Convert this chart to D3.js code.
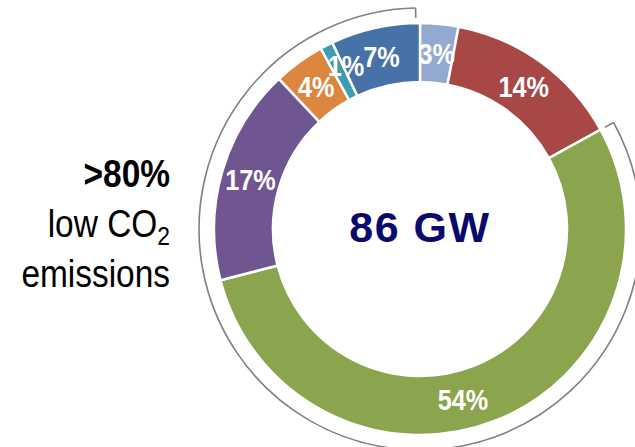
<!DOCTYPE html>
<html>
<head>
<meta charset="utf-8">
<script src="https://cdn.jsdelivr.net/npm/d3@7"></script>
<style>
  html, body { margin: 0; padding: 0; background: #fff; }
  svg { display: block; font-family: "Liberation Sans", Arial, sans-serif; }
</style>
</head>
<body>
<svg id="chart" width="635" height="447"></svg>
<script>
// capacity mix, clockwise from 12 o'clock
var categories = ["Other", "Fossil", "Hydro", "Wind", "Biomass", "Solar", "Nuclear"];
var shares = [3, 14, 54, 17, 4, 1, 7];
var colors = ["#94a9d1", "#a84846", "#8aa54d", "#6f5690", "#dd8640", "#3e9bb0", "#4672a8"];
var lowCo2 = ["Hydro", "Wind", "Biomass", "Solar", "Nuclear"];
var total = "86 GW";

var cx = 420, cy = 229, rOuter = 206, rInner = 147, rBracket = 221;

var svg = d3.select("#chart");

var slices = categories.map(function(c, i) { return {name: c, value: shares[i], color: colors[i]}; });

var pie = d3.pie()
	.sort(null)
	.value(function(d) { return d.value; });

var arcs = pie(slices);

var arc = d3.arc()
	.innerRadius(rInner)
	.outerRadius(rOuter);

var g = svg.append("g")
	.attr("transform", "translate(" + cx + "," + cy + ")");

g.selectAll("path.slice")
	.data(arcs)
	.enter().append("path")
	.attr("class", "slice")
	.attr("d", arc)
	.attr("fill", function(d) { return d.data.color; })
	.attr("stroke", "#fff")
	.attr("stroke-width", 2.5);

// label nudges where the original placed a label off the centroid
var nudge = {Hydro: [-22, 6], Solar: [6, -6]};

g.selectAll("text.pct")
	.data(arcs)
	.enter().append("text")
	.attr("class", "pct")
	.attr("transform", function(d) {
		var c = arc.centroid(d);
		var n = nudge[d.data.name] || [0, 0];
		return "translate(" + (c[0] + n[0]) + "," + (c[1] + n[1]) + ") scale(0.87,1)";
	})
	.attr("text-anchor", "middle")
	.attr("dy", "0.36em")
	.attr("fill", "#fff")
	.attr("font-weight", "bold")
	.attr("font-size", 29)
	.text(function(d) { return d.data.value + "%"; });

// bracket around the low-CO2 slices
var low = arcs.filter(function(d) { return lowCo2.indexOf(d.data.name) >= 0; });
var a0 = d3.min(low, function(d) { return d.startAngle; });
var a1 = d3.max(low, function(d) { return d.endAngle; });

var bracket = d3.arc()
	.innerRadius(rBracket)
	.outerRadius(rBracket)
	.startAngle(a0)
	.endAngle(a1 - 0.02);

g.append("path")
	.attr("d", bracket())
	.attr("fill", "none")
	.attr("stroke", "#808080")
	.attr("stroke-width", 1.6);

[a0, a1 - 0.02].forEach(function(a) {
	g.append("line")
		.attr("x1", rBracket * Math.sin(a))
		.attr("y1", -rBracket * Math.cos(a))
		.attr("x2", (rBracket - 10) * Math.sin(a))
		.attr("y2", -(rBracket - 10) * Math.cos(a))
		.attr("stroke", "#808080")
		.attr("stroke-width", 1.6);
});

// centre total
g.append("text")
	.attr("text-anchor", "middle")
	.attr("y", 13)
	.attr("fill", "#0a0a6e")
	.attr("font-weight", "bold")
	.attr("font-size", 43)
	.attr("letter-spacing", 1.5)
	.text(total);

// side note
var note = svg.append("g")
	.attr("transform", "translate(170,0) scale(0.88,1)")
	.attr("text-anchor", "end")
	.attr("fill", "#000")
	.attr("font-size", 38);

note.append("text")
	.attr("y", 187)
	.attr("font-weight", "bold")
	.text(">80%");

var co2 = note.append("text")
	.attr("y", 237);
co2.append("tspan").text("low CO");
co2.append("tspan")
	.attr("font-size", 26)
	.attr("dy", 8)
	.text("2");

note.append("text")
	.attr("y", 287)
	.text("emissions");
</script>
</body>
</html>
